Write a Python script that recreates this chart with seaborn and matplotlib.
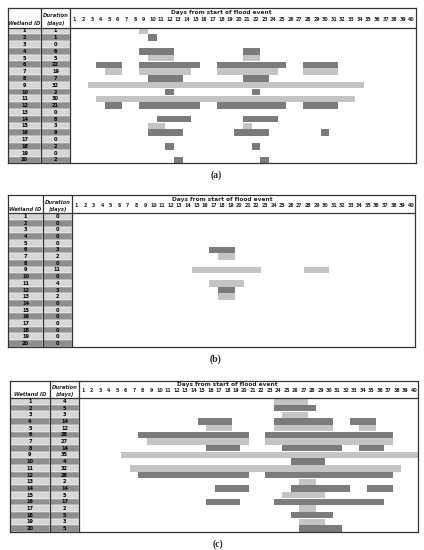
import matplotlib
matplotlib.use("Agg")
import matplotlib.pyplot as plt
import seaborn as sns

# ---- data ----
wetland_ids = list(range(1, 21))
day_numbers = list(range(1, 41))

duration_a = [1, 1, 0, 6, 5, 22, 19, 7, 32, 2, 30, 21, 0, 8, 3, 9, 0, 2, 0, 2]
duration_b = [0, 0, 0, 0, 0, 3, 2, 0, 11, 0, 4, 3, 2, 0, 0, 0, 0, 0, 0, 0]
duration_c = [4, 5, 3, 14, 12, 28, 27, 14, 35, 4, 32, 28, 2, 14, 5, 17, 2, 5, 3, 5]

# flooded periods per wetland: (first day, last day)
spans_a = [
    [(9, 9)], [(10, 10)], [], [(9, 12), (21, 22)], [(10, 12), (21, 22)],
    [(4, 6), (9, 15), (18, 25), (28, 31)], [(5, 6), (9, 14), (18, 24), (28, 31)],
    [(10, 13), (21, 23)], [(3, 34)], [(12, 12), (22, 22)], [(4, 33)],
    [(5, 6), (9, 15), (18, 25), (28, 31)], [], [(11, 14), (21, 24)],
    [(10, 11), (21, 21)], [(10, 13), (20, 23), (30, 30)], [], [(12, 12), (22, 22)],
    [], [(13, 13), (23, 23)],
]
spans_b = [
    [], [], [], [], [], [(17, 19)], [(18, 19)], [], [(15, 22), (28, 30)], [],
    [(17, 20)], [(18, 19)], [(18, 19)], [], [], [], [], [], [], [],
]
spans_c = [
    [(24, 27)], [(24, 28)], [(25, 27)], [(15, 18), (24, 30), (33, 35)],
    [(16, 18), (24, 30), (34, 35)], [(8, 20), (23, 37)], [(9, 20), (23, 37)],
    [(16, 19), (25, 31), (34, 36)], [(6, 40)], [(26, 29)], [(7, 38)],
    [(8, 20), (23, 37)], [(27, 28)], [(17, 20), (26, 32), (35, 37)], [(25, 29)],
    [(16, 19), (24, 36)], [(27, 28)], [(26, 30)], [(27, 29)], [(27, 31)],
]

BAR_LIGHT = '#c4c4c4'
BAR_DARK = '#7b7b7b'
ROW_LIGHT = '#d6d6d6'
ROW_DARK = '#8e8e8e'
LINE = '#333333'

W, H = 424, 550

sns.set_theme(style="white")
plt.rcParams['font.family'] = ['DejaVu Sans']

fig = plt.figure(figsize=(W / 100, H / 100), dpi=100)


def draw_panel(box, durations, spans, label):
    """box: pixel layout (left, id|dur divider, dur|chart divider, right, top, header bottom, bottom)"""
    left, div1, div2, right, top, head, bottom = box
    day_px = (right - div2) / 40
    row_px = (bottom - head) / 20
    x_left = 0.5 - (div2 - left) / day_px
    x_div1 = 0.5 - (div2 - div1) / day_px
    y_top = 0.5 - (head - top) / row_px

    ax = fig.add_axes([left / W, 1 - bottom / H, (right - left) / W, (bottom - top) / H])
    ax.set_xlim(x_left, 40.5)
    ax.set_ylim(20.5, y_top)
    ax.set_xticks([])
    ax.set_yticks([])
    for s in ax.spines.values():
        s.set_color(LINE)
        s.set_linewidth(0.9)

    row_cols = [ROW_LIGHT if i % 2 == 1 else ROW_DARK for i in wetland_ids]
    ax.barh(wetland_ids, x_div1 - x_left, left=x_left, height=1, color=row_cols,
            edgecolor='white', linewidth=0.3)
    ax.barh(wetland_ids, 0.5 - x_div1, left=x_div1, height=1, color=row_cols,
            edgecolor='white', linewidth=0.3)

    id_mid = (x_left + x_div1) / 2
    dur_mid = (x_div1 + 0.5) / 2
    for wid, dur in zip(wetland_ids, durations):
        ax.text(id_mid, wid, str(wid), ha='center', va='center', fontsize=3.6,
                fontweight='bold', color='black')
        ax.text(dur_mid, wid, str(dur), ha='center', va='center', fontsize=3.6,
                fontweight='bold', color='black')

    # flood bars
    for wid, periods in zip(wetland_ids, spans):
        col = BAR_LIGHT if wid % 2 == 1 else BAR_DARK
        for start, end in periods:
            ax.barh(wid, end - start + 1, left=start - 0.5, height=0.96, color=col,
                    linewidth=0)

    # header
    hspan = 0.5 - y_top
    ax.text(id_mid, y_top + 0.8 * hspan, 'Wetland ID', ha='center', va='center',
            fontsize=3.8, fontweight='bold', fontstyle='italic')
    ax.text(dur_mid, y_top + 0.4 * hspan, 'Duration', ha='center', va='center',
            fontsize=3.8, fontweight='bold', fontstyle='italic')
    ax.text(dur_mid, y_top + 0.8 * hspan, '(days)', ha='center', va='center',
            fontsize=3.8, fontweight='bold', fontstyle='italic')
    ax.text(18, y_top + 0.22 * hspan, 'Days from start of flood event', ha='center',
            va='center', fontsize=4.2, fontweight='semibold')
    for d in day_numbers:
        ax.text(d, y_top + 0.6 * hspan, str(d), ha='center', va='center',
                fontsize=3.4, fontweight='semibold')

    ax.axhline(0.5, color=LINE, linewidth=0.9)
    ax.axvline(x_div1, color=LINE, linewidth=0.9)
    ax.axvline(0.5, color=LINE, linewidth=0.9)

    fig.text(((left + right) / 2 + 4) / W, 1 - (bottom + 12) / H, label,
             ha='center', va='center', fontsize=7, family='Liberation Serif',
             fontweight='bold')


draw_panel((8.3, 40.7, 70.3, 415.7, 8.3, 27.5, 163.3), duration_a, spans_a, '(a)')
draw_panel((8.3, 42.7, 72.0, 415.0, 195.0, 213.3, 346.7), duration_b, spans_b, '(b)')
draw_panel((10.0, 50.0, 79.0, 418.0, 380.5, 398.0, 532.0), duration_c, spans_c, '(c)')

fig.savefig('out.png', dpi=100)
plt.close(fig)
